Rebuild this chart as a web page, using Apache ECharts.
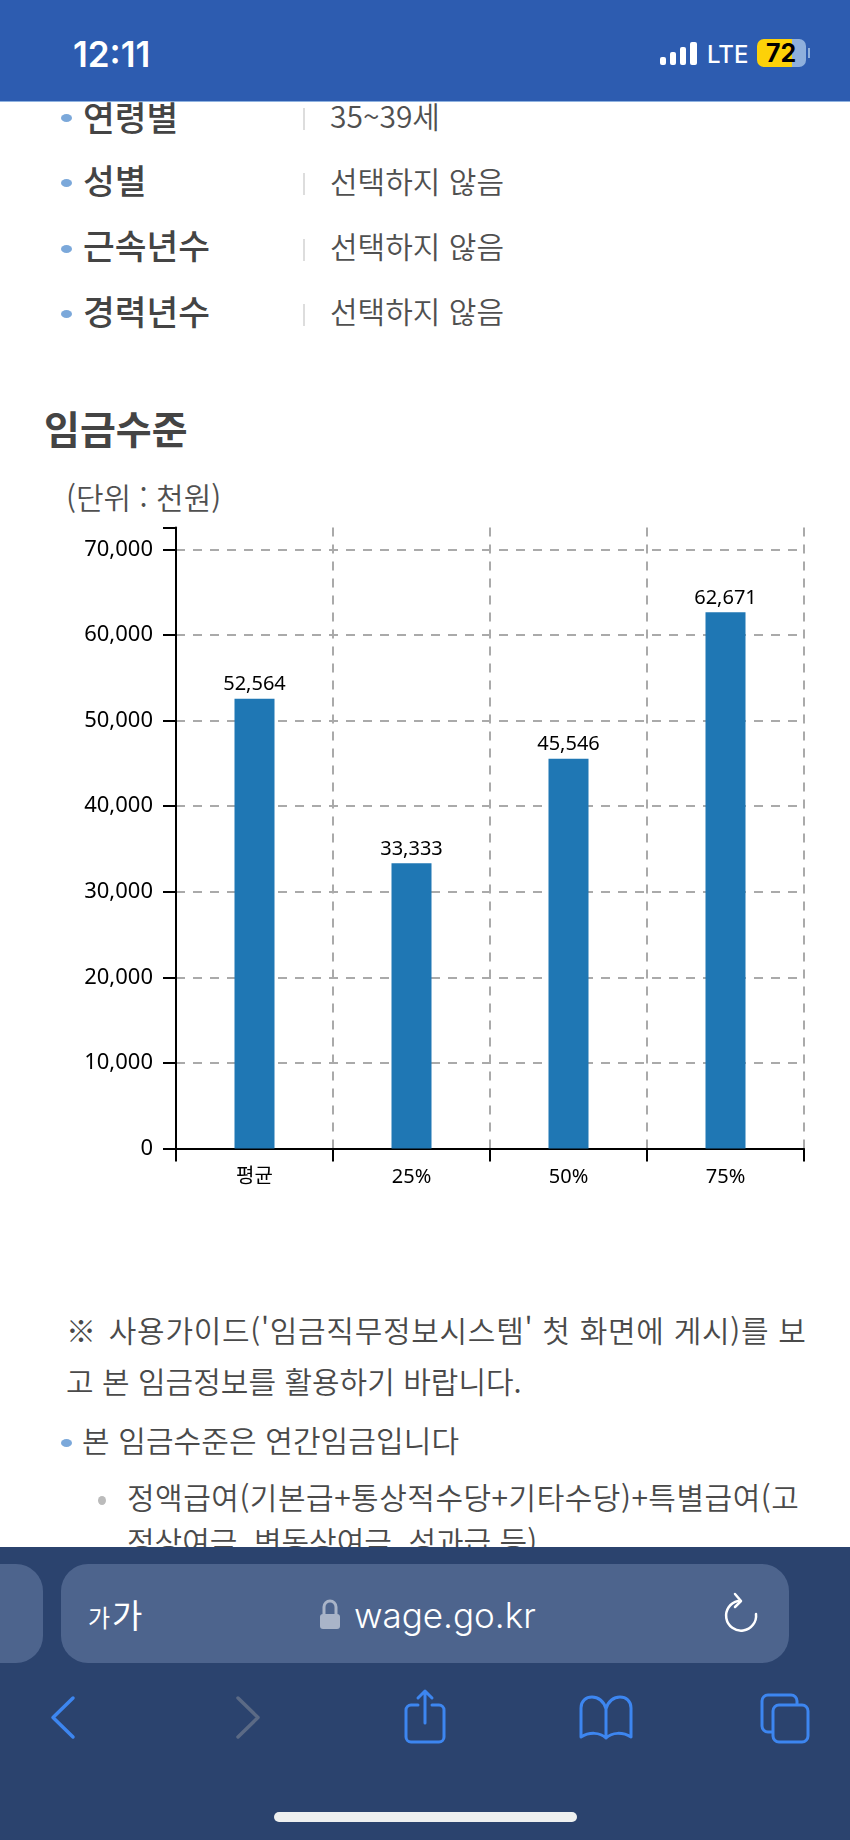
<!DOCTYPE html>
<html lang="ko">
<head>
<meta charset="UTF-8">
<title>임금수준</title>
<style>
    html, body { margin: 0; padding: 0; background: #fff; }
    body { width: 850px; height: 1840px; position: relative; overflow: hidden; font-family: "Noto Sans CJK KR", "Noto Sans", sans-serif; color: #505050; }
    .t { position: absolute; white-space: nowrap; line-height: 40px; height: 40px; }
    .dot { position: absolute; width: 11px; height: 8px; border-radius: 50%; background: #7ba8da; }
    .sep { position: absolute; left: 303px; width: 2px; height: 22px; background: #ddd; }
    .lbl { left: 83px; font-size: 34.5px; font-weight: 500; color: #444; }
    .val { left: 330px; font-size: 30px; font-weight: 350; }
    .note { font-size: 30px; font-weight: 350; color: #4a4a4a; }
    #container { position: absolute; left: 0; top: 500px; width: 850px; height: 720px; }
    #head { position: absolute; left: 0; top: 0; width: 850px; height: 101px; background: #2d5cb0; border-bottom: 1px solid #8fb2e0; }
    #foot { position: absolute; left: 0; top: 1547px; width: 850px; height: 293px; background: #2b436e; }
    .pill { position: absolute; top: 17px; height: 99px; background: #4d648d; }
    svg { position: absolute; left: 0; top: 0; }
</style>
</head>
<body>

<div class="t lbl" style="top:96px">연령별</div>
<div class="t lbl" style="top:159px">성별</div>
<div class="t lbl" style="top:224px">근속년수</div>
<div class="t lbl" style="top:290px">경력년수</div>
<div class="dot" style="left:61px;top:114px"></div>
<div class="dot" style="left:61px;top:179px"></div>
<div class="dot" style="left:61px;top:245px"></div>
<div class="dot" style="left:61px;top:310px"></div>
<div class="sep" style="top:108px"></div>
<div class="sep" style="top:173px"></div>
<div class="sep" style="top:239px"></div>
<div class="sep" style="top:304px"></div>
<div class="t val" style="top:95px">35~39세</div>
<div class="t val" style="top:160px">선택하지 않음</div>
<div class="t val" style="top:225px">선택하지 않음</div>
<div class="t val" style="top:290px">선택하지 않음</div>

<div class="t" style="left:44px;top:407px;font-size:39px;font-weight:700;color:#444">임금수준</div>
<div class="t" style="left:66px;top:476px;font-size:30px;font-weight:350">(단위 : 천원)</div>

<div id="container"></div>

<div class="t note" style="left:66px;top:1309px;letter-spacing:0.7px"><span style="margin-right:3px">※</span> 사용가이드('임금직무정보시스템' 첫 화면에 게시)를 보</div>
<div class="t note" style="left:66px;top:1360px">고 본 임금정보를 활용하기 바랍니다.</div>
<div class="dot" style="left:61px;top:1439px"></div>
<div class="t note" style="left:82px;top:1419px;letter-spacing:0.1px">본 임금수준은 연간임금입니다</div>
<div class="dot" style="left:98px;top:1496px;width:8px;height:9px;background:#bbb"></div>
<div class="t note" style="left:127px;top:1476px;letter-spacing:0.5px">정액급여(기본급+통상적수당+기타수당)+특별급여(고</div>
<div class="t note" style="left:127px;top:1520px">정상여금, 변동상여금, 성과급 등)</div>

<div id="head">
    <div class="t" style="left:73px;top:34px;font-family:Inter;font-size:35px;font-weight:600;color:#fff">12:11</div>
    <div style="position:absolute;left:660px;top:57px;width:6px;height:8px;border-radius:2px;background:#fff"></div>
    <div style="position:absolute;left:670px;top:52px;width:6px;height:13px;border-radius:2px;background:#fff"></div>
    <div style="position:absolute;left:680px;top:47px;width:6px;height:18px;border-radius:2px;background:#fff"></div>
    <div style="position:absolute;left:690px;top:42px;width:7px;height:23px;border-radius:2px;background:#fff"></div>
    <div class="t" style="left:707px;top:35px;font-family:Inter;font-size:24px;font-weight:500;color:#fff">LTE</div>
    <div style="position:absolute;left:757px;top:39px;width:49px;height:28px;border-radius:7px;background:linear-gradient(to right,#fdd108 0,#fdd108 35px,#8fb0dc 35px)"></div>
    <div style="position:absolute;left:808px;top:48px;width:2px;height:10px;background:#8fb0dc"></div>
    <div class="t" style="left:766px;top:33px;font-family:Inter;font-size:25px;font-weight:700;color:#000">72</div>
</div>

<div id="foot">
    <div class="pill" style="left:0;width:43px;border-radius:0 27px 27px 0"></div>
    <div class="pill" style="left:61px;width:728px;border-radius:27px"></div>
    <div class="t" style="left:88px;top:50px;font-size:24px;color:#fff">가</div>
    <div class="t" style="left:112px;top:47px;font-size:33px;color:#fff">가</div>
    <div class="t" style="left:354px;top:48px;font-family:Inter;font-size:35px;font-weight:300;color:#fff">wage.go.kr</div>
    <svg width="850" height="293" fill="none" stroke-linecap="round" stroke-linejoin="round">
        <rect x="320" y="67" width="20" height="15" rx="3" fill="#a9b4c8"/>
        <path d="M324 67v-7a6 6 0 0 1 12 0v7" stroke="#a9b4c8" stroke-width="3"/>
        <path d="M738 54a15 15 0 1 0 18 13" stroke="#fff" stroke-width="2.5"/>
        <path d="M735 47l6 7-6 6" stroke="#fff" stroke-width="2.5"/>
        <path d="M73 151l-20 19.500 20 19.500" stroke="#3d86f0" stroke-width="3.5"/>
        <path d="M238 151l20 19.500-20 19.500" stroke="#5b6a85" stroke-width="3.5"/>
        <path d="M418 158h-7a5 5 0 0 0-5 5v27a5 5 0 0 0 5 5h28a5 5 0 0 0 5-5v-27a5 5 0 0 0-5-5h-7" stroke="#3d86f0" stroke-width="3"/>
        <path d="M425 144v32M418 151l7-7 7 7" stroke="#3d86f0" stroke-width="3"/>
        <path d="M606 162c-2-8-8-12-14-12-6 0-11 4-11 11v29c8-5 19-5 25 1 6-6 17-6 25-1v-29c0-7-5-11-11-11-6 0-12 4-14 12zv29" stroke="#3d86f0" stroke-width="3"/>
        <rect x="762" y="148" width="35" height="37" rx="6" stroke="#3d86f0" stroke-width="3"/>
        <rect x="773" y="158" width="35" height="37" rx="6" fill="#2b436e" stroke="#3d86f0" stroke-width="3"/>
        <rect x="274" y="265" width="303" height="10" rx="5" fill="#eef0f0"/>
    </svg>
</div>

<script src="https://cdn.jsdelivr.net/npm/echarts@6/dist/echarts.min.js"></script>
<script>
    var categories = ['평균', '25%', '50%', '75%'];
    var wageValues = [52564, 33333, 45546, 62671];
    var axisMax = 72570;
    var axisStep = 10000;

    var labelFont = '"Noto Sans", "Noto Sans CJK KR", sans-serif';
    var gridStyle = { color: '#aaaaaa', width: 2, type: [9, 8] };
    var axisStyle = { color: '#000', width: 2 };

    var myChart = echarts.init(document.getElementById('container'));

    var option = {
        animation: false,
        grid: { left: 176, right: 46, top: 27.5, bottom: 71.5 },
        xAxis: {
            type: 'category',
            data: categories,
            axisLine: { lineStyle: axisStyle },
            axisTick: { show: true, length: 13, lineStyle: axisStyle },
            axisLabel: { color: '#000', fontFamily: labelFont, fontSize: 20, margin: 19, interval: 0 },
            splitLine: { show: true, interval: 0, lineStyle: gridStyle }
        },
        yAxis: {
            type: 'value',
            min: 0,
            max: axisMax,
            interval: axisStep,
            axisLine: { show: true, lineStyle: axisStyle },
            axisTick: { show: true, length: 13, lineStyle: axisStyle },
            axisLabel: {
                color: '#000', fontFamily: labelFont, fontSize: 22, margin: 23,
                formatter: function (v) { return v === axisMax ? '' : echarts.format.addCommas(v); }
            },
            splitLine: { show: true, showMaxLine: false, lineStyle: gridStyle }
        },
        series: [{
            type: 'bar',
            data: wageValues,
            barWidth: 40,
            itemStyle: { color: '#1f77b4' },
            label: {
                show: true,
                position: 'top',
                distance: 4,
                color: '#000',
                fontFamily: labelFont,
                fontSize: 20,
                formatter: function (p) { return echarts.format.addCommas(p.value); }
            }
        }]
    };

    myChart.setOption(option);
</script>
</body>
</html>
